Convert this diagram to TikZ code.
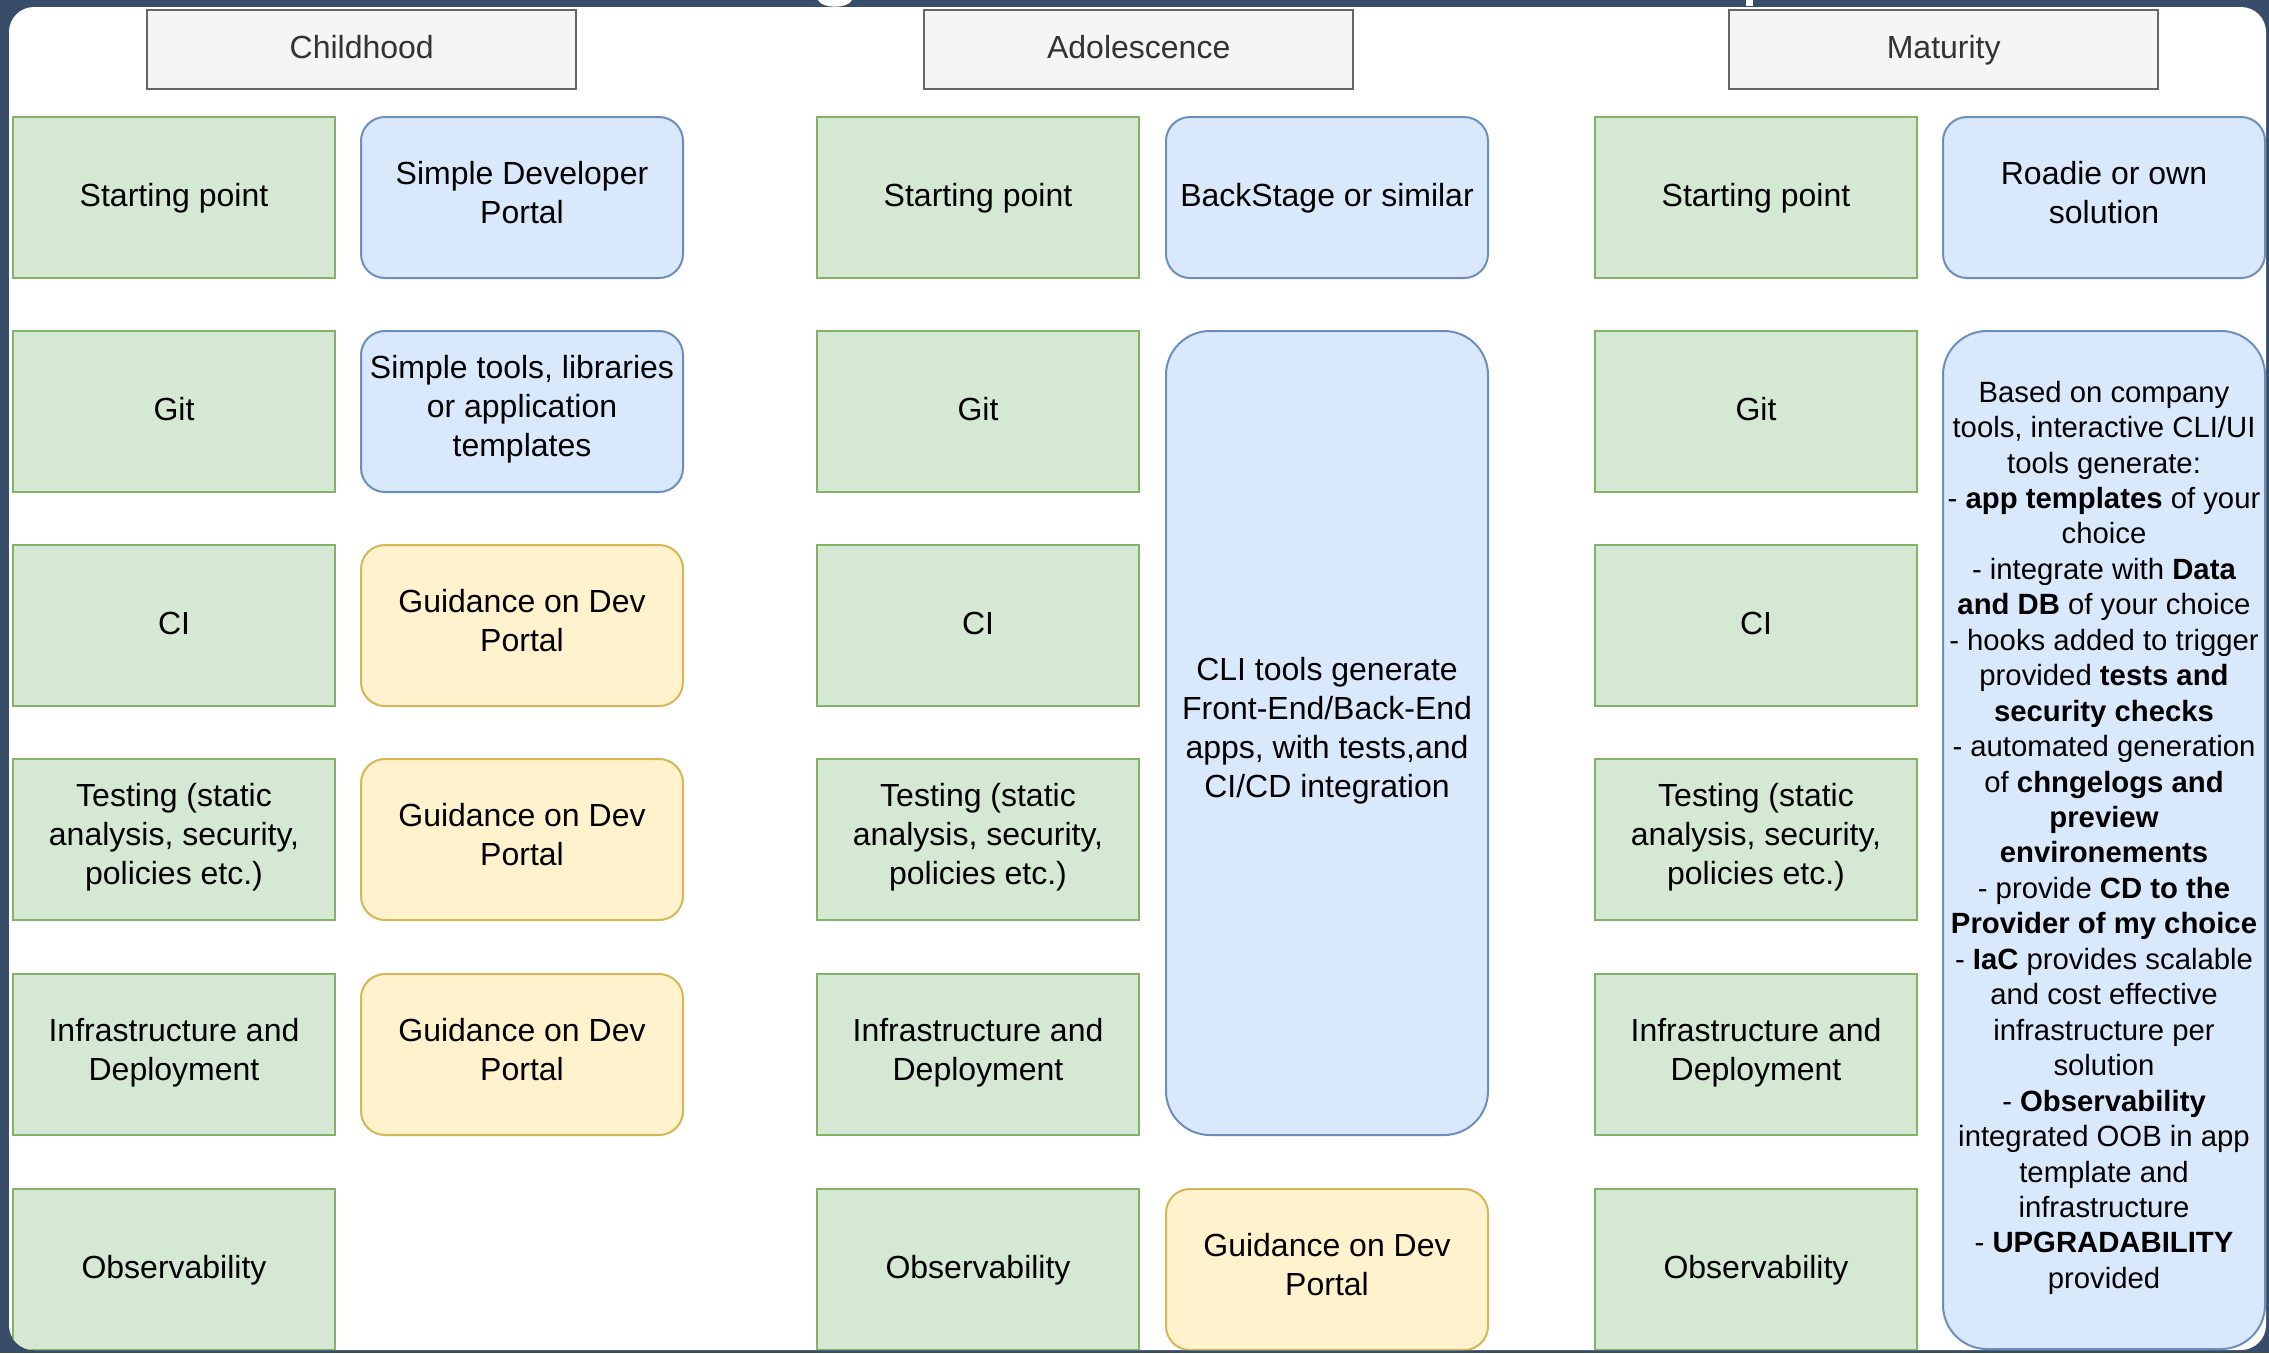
\documentclass[tikz,border=0pt]{standalone}
\usepackage{fontspec}
\setmainfont{Liberation Sans}
\definecolor{framec}{RGB}{56,77,103}
\definecolor{gfill}{HTML}{D5E8D4}\definecolor{gline}{HTML}{82B366}
\definecolor{bfill}{HTML}{DAE8FC}\definecolor{bline}{HTML}{6C8EBF}
\definecolor{yfill}{HTML}{FFF2CC}\definecolor{yline}{HTML}{D6B656}
\definecolor{hfill}{HTML}{F5F5F5}\definecolor{hline}{HTML}{666666}
\definecolor{htext}{HTML}{333333}
\newcommand\gstrut{\rule[-10.8pt]{0pt}{39pt}}
\newcommand\mltop{\rule{0pt}{30.5pt}}
\newcommand\mlbot{\rule[-8.5pt]{0pt}{8.5pt}}
\newcommand\smtop{\rule{0pt}{27.7pt}}
\newcommand\smbot{\rule[-7.7pt]{0pt}{7.7pt}}
\tikzset{
  base/.style={inner sep=0pt, align=center, line width=2pt, anchor=north west,
    font=\fontsize{32}{39}\selectfont, text=black,
    execute at begin node=\gstrut, execute at end node=\gstrut},
  ml/.style={execute at begin node=\mltop, execute at end node=\mlbot},
  gbox/.style={base, fill=gfill, draw=gline, minimum width=322pt, minimum height=161pt},
  bbox/.style={base, fill=bfill, draw=bline, rounded corners=24pt, minimum width=322pt, minimum height=161pt},
  ybox/.style={base, ml, fill=yfill, draw=yline, rounded corners=24pt, minimum width=322pt, minimum height=161pt},
  tallbox/.style={base, ml, fill=bfill, draw=bline, rounded corners=44pt, minimum width=322pt},
  hbox/.style={base, fill=hfill, draw=hline, line width=2.4pt, text=htext, minimum width=429pt, minimum height=79pt},
  small/.style={font=\fontsize{29.3}{35.45}\selectfont,
    execute at begin node=\smtop, execute at end node=\smbot}
}
\begin{document}
\begin{tikzpicture}[x=1pt,y=-1pt]
\useasboundingbox (0,0) rectangle (2269,1353);
\fill[framec] (0,0) rectangle (2269,1353);
\fill[white, rounded corners=25pt] (9,7) rectangle (2266,1350);
\fill[white] (818,0) .. controls (822,9) and (848,9) .. (852,0) -- cycle;
\fill[white] (1746,0) rectangle (1753,6);
\begin{scope}
\clip[rounded corners=25pt] (9,7) rectangle (2266,1350);
% headers
\node[hbox] (h1) at (146,9) {Childhood};
\node[hbox] (h2) at (923,9) {Adolescence};
\node[hbox] (h3) at (1728,9) {Maturity};
% column 1
\node[gbox] (a1) at (12,116) {Starting point};
\node[gbox] (a2) at (12,330) {Git};
\node[gbox] (a3) at (12,544) {CI};
\node[gbox, ml] (a4) at (12,758) {Testing (static\\analysis, security,\\policies etc.)};
\node[gbox, ml] (a5) at (12,973) {Infrastructure and\\Deployment};
\node[gbox] (a6) at (12,1188) {Observability};
\node[bbox, ml] (b1) at (360,116) {Simple Developer\\Portal};
\node[bbox, ml] (b2) at (360,330) {Simple tools, libraries\\or application\\templates};
\node[ybox] (b3) at (360,544) {Guidance on Dev\\Portal};
\node[ybox] (b4) at (360,758) {Guidance on Dev\\Portal};
\node[ybox] (b5) at (360,973) {Guidance on Dev\\Portal};
% column 2
\node[gbox] (c1) at (816,116) {Starting point};
\node[gbox] (c2) at (816,330) {Git};
\node[gbox] (c3) at (816,544) {CI};
\node[gbox, ml] (c4) at (816,758) {Testing (static\\analysis, security,\\policies etc.)};
\node[gbox, ml] (c5) at (816,973) {Infrastructure and\\Deployment};
\node[gbox] (c6) at (816,1188) {Observability};
\node[bbox] (d1) at (1165,116) {BackStage or similar};
\node[tallbox, minimum height=804pt] (d2) at (1165,330) {CLI tools generate\\Front-End/Back-End\\apps, with tests,and\\CI/CD integration};
\node[ybox] (d6) at (1165,1188) {Guidance on Dev\\Portal};
% column 3
\node[gbox] (e1) at (1594,116) {Starting point};
\node[gbox] (e2) at (1594,330) {Git};
\node[gbox] (e3) at (1594,544) {CI};
\node[gbox, ml] (e4) at (1594,758) {Testing (static\\analysis, security,\\policies etc.)};
\node[gbox, ml] (e5) at (1594,973) {Infrastructure and\\Deployment};
\node[gbox] (e6) at (1594,1188) {Observability};
\node[bbox, ml] (f1) at (1942,116) {Roadie or own\\solution};
\node[tallbox, small, minimum height=1018pt] (f2) at (1942,330) {Based on company\\tools, interactive CLI/UI\\tools generate:\\- \textbf{app templates} of your\\choice\\- integrate with \textbf{Data}\\\textbf{and DB} of your choice\\- hooks added to trigger\\provided \textbf{tests and}\\\textbf{security checks}\\- automated generation\\of \textbf{chngelogs and}\\\textbf{preview}\\\textbf{environements}\\- provide \textbf{CD to the}\\\textbf{Provider of my choice}\\- \textbf{IaC} provides scalable\\and cost effective\\infrastructure per\\solution\\- \textbf{Observability}\\integrated OOB in app\\template and\\infrastructure\\- \textbf{UPGRADABILITY}\\provided};
\end{scope}
\end{tikzpicture}
\end{document}
